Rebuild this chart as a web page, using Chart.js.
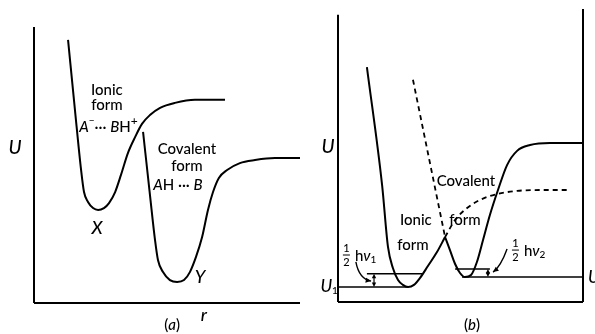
<!DOCTYPE html>
<html><head><meta charset="utf-8">
<script src="https://cdn.jsdelivr.net/npm/chart.js@4"></script>
<style>
html,body{margin:0;padding:0;background:#fff;width:595px;height:334px;overflow:hidden}
canvas{position:absolute;top:0}
#ca{left:0px} #cb{left:300px}
</style></head><body>
<canvas id="ca" width="300" height="334"></canvas>
<canvas id="cb" width="295" height="334"></canvas>
<script>
// ---------- Panel (a): potential curves U(r) ----------
const ionicA_r    = [1.28,1.54,1.77,1.88,2.03,2.22,2.41,2.63,2.82,3.05,3.27,3.53,3.80,4.06,4.36,4.74,5.30,6.05,7.18];
const ionicA_U    = [9.53,6.99,4.82,4.02,3.66,3.44,3.37,3.44,3.62,4.02,4.64,5.43,6.01,6.49,6.81,7.07,7.25,7.36,7.36];
const covalentA_r = [4.10,4.36,4.55,4.66,4.85,5.11,5.38,5.64,5.86,6.09,6.32,6.54,6.73,6.95,7.26,7.74,8.31,9.06,10.0];
const covalentA_U = [6.20,3.91,2.28,1.56,1.12,0.83,0.76,0.83,1.12,1.67,2.39,3.37,4.02,4.53,4.82,5.07,5.18,5.25,5.25];

// ---------- Panel (b): combined curve, dashed continuations, levels ----------
const ionicB_r    = [1.18,1.80,2.04,2.24,2.45,2.65,2.86,3.10,3.35,3.67,4.04,4.37];
const ionicB_U    = [8.10,4.03,1.90,1.17,0.76,0.59,0.52,0.59,0.83,1.24,1.72,2.24];
const covalentB_r = [4.37,4.57,4.78,4.98,5.18,5.43,5.67,5.92,6.20,6.53,6.90,7.31,7.84,8.65,10.0];
const covalentB_U = [2.24,1.79,1.31,1.00,0.86,0.93,1.38,2.14,3.00,3.86,4.72,5.21,5.41,5.48,5.48];
const covWallB_r  = [3.06,4.37];
const covWallB_U  = [7.66,2.24];
const ionTailB_r  = [4.37,4.78,5.27,5.80,6.49,7.31,8.24,9.35];
const ionTailB_U  = [2.24,2.83,3.24,3.52,3.72,3.83,3.86,3.86];
const U1line_r = [0,2.86],    U1line_U = [0.52,0.52];
const v1level_r = [1.18,3.43], v1level_U = [0.97,0.97];
const U2line_r = [5.06,10],   U2line_U = [0.86,0.86];
const v2level_r = [4.78,6.20], v2level_U = [1.14,1.14];

const F = "Lato, 'Noto Sans', 'DejaVu Sans', sans-serif";
const pts = (r,u) => r.map((v,i)=>({x:v,y:u[i]}));
const ds = (r,u,o={}) => Object.assign({data:pts(r,u),borderColor:'#000',borderWidth:2,pointRadius:0,fill:false,
  cubicInterpolationMode:'monotone',clip:false},o);

function drawRich(ctx, segs, x, y, align){
  let w=0;
  segs.forEach(s=>{ctx.font=s.f; s.w=ctx.measureText(s.t).width; w+=s.w;});
  let cx = align==='left' ? x : x - w/2;
  segs.forEach(s=>{ctx.font=s.f; ctx.fillText(s.t, cx, y+(s.dy||0)); cx+=s.w;});
}
function head(ctx,x,y,ang,s){
  ctx.beginPath();
  ctx.moveTo(x,y);
  ctx.lineTo(x-s*Math.cos(ang-0.45), y-s*Math.sin(ang-0.45));
  ctx.lineTo(x-s*Math.cos(ang+0.45), y-s*Math.sin(ang+0.45));
  ctx.closePath(); ctx.fill();
}
const N = (sz,st='') => `${st} 500 ${sz}px ${F}`;

const diagramPlugin = {
  id:'diagram',
  afterDatasetsDraw(chart, args, opts){
    const ctx = chart.ctx, xs = chart.scales.x, ys = chart.scales.y;
    const X = v=>xs.getPixelForValue(v), Y = v=>ys.getPixelForValue(v);
    ctx.save();
    ctx.strokeStyle='#000'; ctx.fillStyle='#000'; ctx.lineCap='butt';
    (opts.axes||[]).forEach(a=>{
      ctx.lineWidth=2; ctx.beginPath(); ctx.moveTo(X(a[0]),Y(a[1])); ctx.lineTo(X(a[2]),Y(a[3])); ctx.stroke();
    });
    (opts.dbl||[]).forEach(a=>{
      const x=X(a[0]), y1=Y(a[1]), y2=Y(a[2]);
      ctx.lineWidth=1.2; ctx.beginPath(); ctx.moveTo(x,y1-3); ctx.lineTo(x,y2+3); ctx.stroke();
      head(ctx,x,y1,Math.PI/2,5); head(ctx,x,y2,-Math.PI/2,5);
    });
    (opts.curls||[]).forEach(c=>{
      const sx=X(c[0]),sy=Y(c[1]),cx=X(c[2]),cy=Y(c[3]),ex=X(c[4]),ey=Y(c[5]);
      ctx.lineWidth=1.4; ctx.beginPath(); ctx.moveTo(sx,sy); ctx.quadraticCurveTo(cx,cy,ex,ey); ctx.stroke();
      head(ctx,ex,ey,Math.atan2(ey-cy,ex-cx),6);
    });
    ctx.textBaseline='middle';
    (opts.texts||[]).forEach(t=>{
      drawRich(ctx, t.segs, X(t.x), Y(t.y), t.align);
    });
    (opts.fracs||[]).forEach(t=>{
      const x=X(t.x), y=Y(t.y);
      ctx.font=N(11); ctx.textAlign='center';
      ctx.fillText('1', x+3.5, y-7); ctx.fillText('2', x+3.5, y+7);
      ctx.lineWidth=1; ctx.beginPath(); ctx.moveTo(x,y); ctx.lineTo(x+7,y); ctx.stroke();
      ctx.textAlign='left';
      drawRich(ctx, t.segs, x+12, y+1, 'left');
    });
    ctx.restore();
  }
};

function makeChart(id, datasets, padding, xr, yr, deco){
  return new Chart(document.getElementById(id), {
    type:'line',
    data:{datasets},
    options:{responsive:false, animation:false, events:[], layout:{padding},
      plugins:{legend:{display:false}, tooltip:{enabled:false}, diagram:deco},
      scales:{x:{type:'linear',min:xr[0],max:xr[1],display:false},
              y:{type:'linear',min:yr[0],max:yr[1],display:false}}},
    plugins:[diagramPlugin]
  });
}

const T = 15;
makeChart('ca', [ds(ionicA_r,ionicA_U), ds(covalentA_r,covalentA_U)],
  {left:34,right:0,top:27,bottom:31}, [0,10], [0,10], {
  axes:[[0,0,0,10],[0,0,10,0]],
  texts:[
    {x:2.74,y:7.72,segs:[{t:'Ionic',f:N(T)}]},
    {x:2.74,y:7.17,segs:[{t:'form',f:N(T)}]},
    {x:2.80,y:6.38,segs:[{t:'A',f:N(T,'italic')},{t:'−',f:N(10),dy:-6},{t:'··· ',f:N(T)},{t:'B',f:N(T,'italic')},{t:'H',f:N(T)},{t:'+',f:N(12),dy:-6}]},
    {x:5.75,y:5.58,segs:[{t:'Covalent',f:N(T)}]},
    {x:5.75,y:4.96,segs:[{t:'form',f:N(T)}]},
    {x:5.41,y:4.28,segs:[{t:'A',f:N(T,'italic')},{t:'H ··· ',f:N(T)},{t:'B',f:N(T,'italic')}]},
    {x:2.37,y:2.72,segs:[{t:'X',f:N(18,'italic')}]},
    {x:6.24,y:0.94,segs:[{t:'Y',f:N(18,'italic')}]},
    {x:-0.71,y:5.62,segs:[{t:'U',f:N(19,'italic')}]},
    {x:6.39,y:-0.43,segs:[{t:'r',f:N(18,'italic')}]},
    {x:5.19,y:-0.80,segs:[{t:'(',f:N(15)},{t:'a',f:N(15,'italic')},{t:')',f:N(15)}]}
  ]
});

makeChart('cb', [
    ds(ionicB_r,ionicB_U), ds(covalentB_r,covalentB_U),
    ds(covWallB_r,covWallB_U,{borderDash:[5,4],borderWidth:1.8}),
    ds(ionTailB_r,ionTailB_U,{borderDash:[5,4],borderWidth:1.8}),
    ds(U1line_r,U1line_U,{borderWidth:1.5}), ds(v1level_r,v1level_U,{borderWidth:1.5}),
    ds(U2line_r,U2line_U,{borderWidth:1.5}), ds(v2level_r,v2level_U,{borderWidth:1.5})
  ],
  {left:38,right:12,top:9,bottom:32}, [0,10], [0,10.1], {
  axes:[[0,0,0,9.9],[10,0,10,10.1],[0,0,10,0]],
  dbl:[[1.47,0.52,0.97],[6.12,0.86,1.14]],
  curls:[[0.73,1.38,0.86,0.79,1.35,0.72],[6.90,1.83,6.65,1.24,6.33,1.03]],
  texts:[
    {x:-0.41,y:5.34,segs:[{t:'U',f:N(19,'italic')}]},
    {x:-0.36,y:0.52,segs:[{t:'U',f:N(17,'italic')},{t:'1',f:N(10),dy:4}]},
    {x:10.2,y:0.86,align:'left',segs:[{t:'U',f:N(17,'italic')},{t:'2',f:N(10),dy:4}]},
    {x:5.22,y:4.17,segs:[{t:'Covalent',f:N(T)}]},
    {x:5.18,y:2.83,segs:[{t:'form',f:N(T)}]},
    {x:3.18,y:2.83,segs:[{t:'Ionic',f:N(T)}]},
    {x:3.06,y:1.97,segs:[{t:'form',f:N(T)}]},
    {x:5.47,y:-0.79,segs:[{t:'(',f:N(15)},{t:'b',f:N(15,'italic')},{t:')',f:N(15)}]}
  ],
  fracs:[
    {x:0.20,y:1.62,segs:[{t:'h',f:N(15)},{t:'ν',f:N(15,'italic')},{t:'1',f:N(10),dy:4}]},
    {x:7.10,y:1.79,segs:[{t:'h',f:N(15)},{t:'ν',f:N(15,'italic')},{t:'2',f:N(10),dy:4}]}
  ]
});
</script>
</body></html>
